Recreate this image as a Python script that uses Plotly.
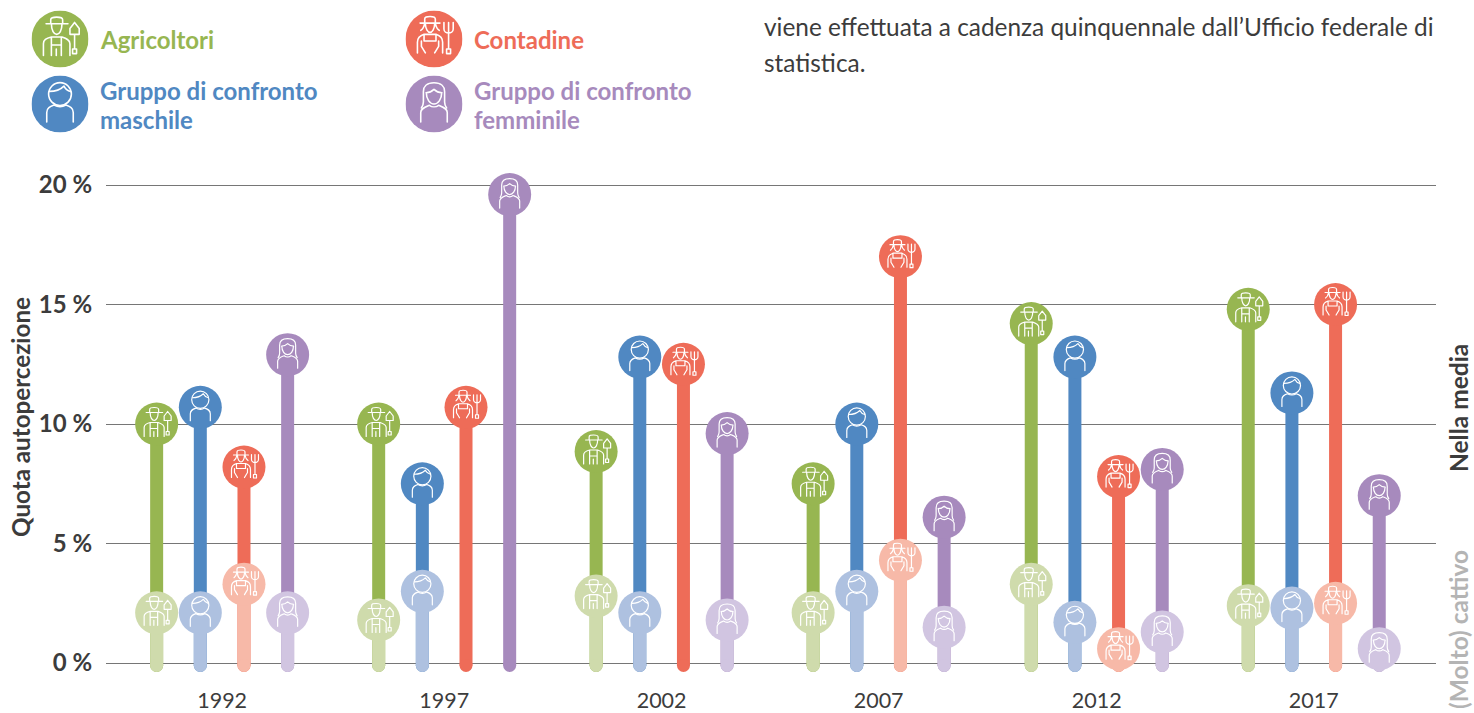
import base64
import plotly.graph_objects as go

YEARS = ["1992", "1997", "2002", "2007", "2012", "2017"]
GROUP_POS = [0, 1.017, 2.013, 3.007, 4.006, 5.0]
SERIES = ["Agricoltori", "Gruppo di confronto maschile", "Contadine", "Gruppo di confronto femminile"]
AVERAGE = [
    [10.0, 10.0, 8.85, 7.5, 14.2, 14.8],
    [10.7, 7.5, 12.8, 10.0, 12.8, 11.3],
    [8.2, 10.7, 12.5, 17.0, 7.8, 15.0],
    [12.9, 19.6, 9.6, 6.1, 8.1, 7.0],
]
BAD = [
    [2.1, 1.8, 2.8, 2.1, 3.3, 2.4],
    [2.1, 3.0, 2.1, 3.0, 1.7, 2.3],
    [3.3, None, None, 4.3, 0.6, 2.5],
    [2.1, None, 1.8, 1.5, 1.3, 0.6],
]
DARK = ["#97B651", "#5088C2", "#EE6C58", "#A78ABD"]
LIGHT = ["#CFDBAC", "#AEC1E0", "#F7B9A8", "#D1C5E1"]
TEXTCOL = "#3C3C3C"
FONT = "Lato"
BASE = -0.1
W, H = 1474, 713
STEP = 0.2

ICONS = {
    0: """<path d='M11 10H27.5M14.5 10V7C14.5 5.5 16 5 19 5S23.5 5.5 23.5 7V10M15 10C15 15 17 18 19 18S23 15 23 10'/>
<path d='M9 34V25C9 22 11 21 15 20H23C26 21 29 22 29 25V34M15 20V34M22.5 20V34M15 26H22.5M18.7 29V34'/>
<path d='M32.5 9L29 13.5V18H36V13.5ZM32.5 18V29M31 29H34V32.5H31Z'/>""",
    1: """<circle cx='21.5' cy='14' r='8.6'/><path d='M13.5 12C18 12 22 10.5 24.5 8C25.5 10 27.5 11.5 29.5 12'/>
<path d='M11.5 35V28C11.5 24.5 14 23.5 17 22.3C20 24 23 24 26 22.3C29 23.5 31.5 24.5 31.5 28V35'/>""",
    2: """<path d='M11 9.5H26M14.5 9.5V6.5C14.5 5 16 4.5 18.5 4.5S22.5 5 22.5 6.5V9.5M14.5 9.5C14 12.5 13 14 11.5 15M22.5 9.5C23 12.5 24 14 25.5 15M15 10C15 14 17 16.5 18.5 16.5S22 14 22 10'/>
<path d='M9 32V24C9 21 11 19 14 18H23C26 19 28 21 28 24V32M14 18V23H23V18M12 23V27L15 32M25 23V27L22 32'/>
<path d='M29 9V14C29 16 31 17 32.5 17S36 16 36 14V9M32.5 9V29M31 29H34V32.5H31Z'/>""",
    3: """<path d='M21.5 5.5C16 5.5 13.5 8.5 13.5 12V20C13.5 22 13 23 12 24.5M21.5 5.5C27 5.5 29.5 8.5 29.5 12V20C29.5 22 30 23 31 24.5M15.5 13C18 13 20 12 21.5 10.5C23 12 25 13 27.5 13M15.7 13C15.7 18 18.5 21.5 21.5 21.5S27.3 18 27.3 13'/>
<path d='M11.5 35V28C11.5 25 14.5 24 18 22.5C20 24 23 24 25 22.5C28.5 24 31.5 25 31.5 28V35'/>""",
}


def icon_uri(kind, bg=None):
    circle = f"<circle cx='21.5' cy='21.5' r='21.5' fill='{bg}'/>" if bg else ""
    svg = (
        "<svg xmlns='http://www.w3.org/2000/svg' width='172' height='172' viewBox='0 0 43 43'>"
        + circle
        + "<g fill='none' stroke='white' stroke-width='1.2' stroke-linecap='round' stroke-linejoin='round'>"
        + ICONS[kind]
        + "</g></svg>"
    )
    return "data:image/svg+xml;base64," + base64.b64encode(svg.encode()).decode()


L, R, T, B = 106, 38, 170, 33
XMIN, XMAX = -0.532, 5.56
PER_UNIT_Y = 23.9
YMIN = (663 - (H - B)) / PER_UNIT_Y
YMAX = (663 - T) / PER_UNIT_Y
X_PER_PX = (XMAX - XMIN) / (W - L - R)
Y_PER_PX = 1 / PER_UNIT_Y

fig = go.Figure()
images = []


def add_group(values, colours, suffix):
    for s in range(4):
        xs, ys, sizes = [], [], []
        for g in range(6):
            if values[s][g] is None:
                continue
            x = GROUP_POS[g] + (s - 1.5) * STEP
            xs += [x, x, None]
            ys += [values[s][g], BASE, None]
            sizes += [43, 13, 0]
            images.append(dict(source=icon_uri(s), xref="x", yref="y", x=x, y=values[s][g],
                               sizex=43 * X_PER_PX, sizey=43 * Y_PER_PX, xanchor="center", yanchor="middle",
                               sizing="stretch", layer="above"))
        fig.add_trace(go.Scatter(x=xs, y=ys, mode="lines+markers", name=SERIES[s] + suffix, showlegend=False,
                                 cliponaxis=False,
                                 line=dict(color=colours[s], width=13),
                                 marker=dict(color=colours[s], size=sizes, opacity=1, line=dict(width=0))))


add_group(AVERAGE, DARK, "")
add_group(BAD, LIGHT, " (cattivo)")

LEG = [(60, 39, 0, ["Agricoltori"]), (434, 39, 2, ["Contadine"]),
       (60, 104, 1, ["Gruppo di confronto", "maschile"]), (434, 104, 3, ["Gruppo di confronto", "femminile"])]
annotations = []


def note(text, px, py, size=21, color=TEXTCOL, angle=0, xanchor="left", yanchor="middle"):
    annotations.append(dict(text=text, xref="paper", yref="paper",
                            x=(px - L) / (W - L - R), y=1 - (py - T) / (H - T - B),
                            xanchor=xanchor, yanchor=yanchor, showarrow=False, textangle=angle,
                            font=dict(family=FONT, size=size, color=color)))


for cx, cy, s, lines in LEG:
    images.append(dict(source=icon_uri(s, DARK[s]), xref="paper", yref="paper",
                       x=(cx - L) / (W - L - R), y=1 - (cy - T) / (H - T - B),
                       sizex=57 / (W - L - R), sizey=57 / (H - T - B),
                       xanchor="center", yanchor="middle", layer="above"))
    if len(lines) == 1:
        note(f"<b>{lines[0]}</b>", cx + 38, cy, size=24, color=DARK[s])
    else:
        note(f"<b>{lines[0]}</b>", cx + 38, cy - 13.5, size=24, color=DARK[s])
        note(f"<b>{lines[1]}</b>", cx + 38, cy + 15.5, size=24, color=DARK[s])

note("viene effettuata a cadenza quinquennale dall\u2019Ufficio federale di", 762, 26, size=24.4)
note("statistica.", 762, 62, size=24.4)
note("<b>Quota autopercezione</b>", 20, 417, size=24.2, angle=-90, xanchor="center")
note("<b>Nella media</b>", 1458, 408, size=24.5, angle=-90, xanchor="center")
note("<b>(Molto) cattivo</b>", 1458, 630, size=24.5, color="#B4B4B4", angle=-90, xanchor="center")

fig.update_layout(
    width=W, height=H, autosize=False,
    margin=dict(l=L, r=R, t=T, b=B, pad=0, autoexpand=False),
    paper_bgcolor="white", plot_bgcolor="white",
    showlegend=False, images=images, annotations=annotations,
    xaxis=dict(range=[XMIN, XMAX], tickmode="array", tickvals=GROUP_POS, ticktext=YEARS,
               showgrid=False, zeroline=False, showline=False, automargin=False,
               ticks="outside", ticklen=1, tickcolor="rgba(0,0,0,0)",
               tickfont=dict(family=FONT, size=21.5, color=TEXTCOL)),
    yaxis=dict(range=[YMIN, YMAX], tickmode="array", tickvals=[0, 5, 10, 15, 20],
               ticktext=["<b>0 %</b>", "<b>5 %</b>", "<b>10 %</b>", "<b>15 %</b>", "<b>20 %</b>"],
               showgrid=True, gridcolor="#767676", gridwidth=1.3, zeroline=False, showline=False,
               automargin=False,
               ticks="outside", ticklen=8, tickcolor="rgba(0,0,0,0)",
               tickfont=dict(family=FONT, size=24, color=TEXTCOL)),
)
fig.write_html("out.html", config={"displayModeBar": False},
               post_script="document.body.style.margin='0';document.documentElement.style.overflow='hidden';")
